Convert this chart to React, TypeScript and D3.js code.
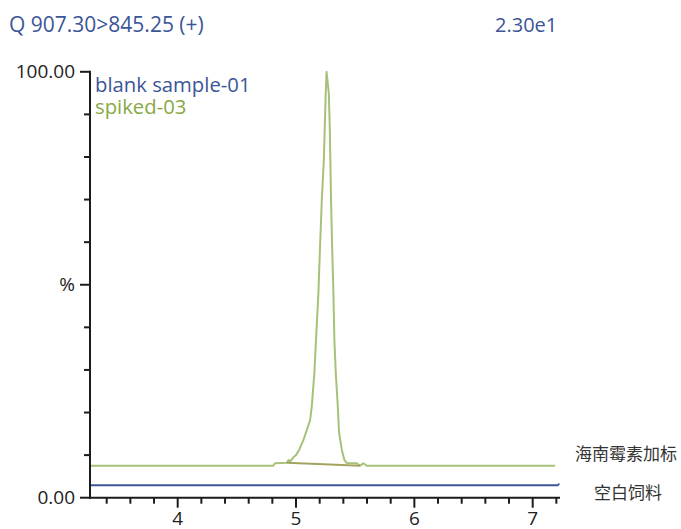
import React from "react";
import * as d3 from "d3";

const title = "Q 907.30>845.25 (+)";
const intensityLabel = "2.30e1";
const seriesNames = ["blank sample-01", "spiked-03"];
const sideLabels = ["海南霉素加标", "空白饲料"];

const xMajorTicks = [4, 5, 6, 7];
const xMinorTicks = [3.4, 3.6, 3.8, 4.2, 4.4, 4.6, 4.8, 5.2, 5.4, 5.6, 5.8, 6.2, 6.4, 6.6, 6.8, 7.2];
const yMajorTicks = [0, 50, 100];
const yMajorLabels = ["0.00", "%", "100.00"];
const yMinorTicks = [10, 20, 30, 40, 60, 70, 80, 90];

const blankTimes = [3.259, 7.21, 7.225];
const blankValues = [2.9, 2.9, 3.3];

const spikedTimes = [
  3.259, 4.806, 4.823, 4.922, 4.937, 4.95, 4.964, 4.979, 5.0, 5.026, 5.062, 5.091, 5.119,
  5.133, 5.155, 5.169, 5.189, 5.203, 5.218, 5.235, 5.243, 5.251, 5.258, 5.277, 5.285, 5.29,
  5.296, 5.305, 5.316, 5.324, 5.336, 5.353, 5.364, 5.387, 5.409, 5.429, 5.513, 5.541, 5.569,
  5.598, 7.19,
];
const spikedValues = [
  7.5, 7.5, 8.1, 8.2, 8.85, 8.5, 9.0, 9.55, 10.0, 11.2, 13.5, 15.9, 18.2,
  21.4, 29.3, 37.1, 48.0, 59.0, 69.9, 79.3, 87.1, 95.0, 100, 95.0, 87.1, 79.3,
  69.9, 59.0, 48.0, 37.1, 29.3, 21.4, 15.2, 11.2, 8.85, 8.15, 8.1, 7.5, 8.1,
  7.5, 7.5,
];
const integrationTimes = [4.922, 5.541];
const integrationValues = [8.2, 7.5];

const BLUE = "#3b5597";
const GREEN_LINE = "#a6c27a";
const GREEN_TEXT = "#88a845";
const BASE_COLOR = "#a2a460";
const AXIS = "#1c1c1c";
const FONT = "'Open Sans', 'Noto Sans', sans-serif";

export default function App() {
  const x = d3.scaleLinear().domain([3.2589, 7.2308]).range([90, 560]);
  const y = d3.scaleLinear().domain([0, 100]).range([497.7, 71.8]);
  const line = d3
    .line<[number, number]>()
    .x((d) => x(d[0]))
    .y((d) => y(d[1]));

  const blank = blankTimes.map((t, i) => [t, blankValues[i]] as [number, number]);
  const spiked = spikedTimes.map((t, i) => [t, spikedValues[i]] as [number, number]);
  const integ = integrationTimes.map((t, i) => [t, integrationValues[i]] as [number, number]);
  const x0 = x.range()[0];
  const y0 = y(0);

  return (
    <svg
      width={681}
      height={529}
      style={{ position: "absolute", left: 0, top: 0, display: "block", background: "#fff" }}
      fontFamily={FONT}
    >
      <text x={9} y={32} fontSize={21} fill={BLUE}>{title}</text>
      <text x={495} y={32} fontSize={20} fill={BLUE}>{intensityLabel}</text>

      {/* lines */}
      <path d={line(spiked) || ""} fill="none" stroke={GREEN_LINE} strokeWidth={2} strokeLinejoin="round" />
      <path d={line(integ) || ""} fill="none" stroke={BASE_COLOR} strokeWidth={2} />
      <path d={line(blank) || ""} fill="none" stroke={BLUE} strokeWidth={2} />

      {/* y axis */}
      <line x1={x0} x2={x0} y1={y(100) - 1} y2={y0 + 1} stroke={AXIS} strokeWidth={2} />
      {yMajorTicks.map((t) => (
        <line key={"ym" + t} x1={80} x2={x0} y1={y(t)} y2={y(t)} stroke={AXIS} strokeWidth={2} />
      ))}
      {yMinorTicks.map((t) => (
        <line key={"yn" + t} x1={84} x2={x0} y1={y(t)} y2={y(t)} stroke={AXIS} strokeWidth={2} />
      ))}
      {yMajorTicks.map((t, i) => (
        <text key={"yl" + t} x={75} y={y(t)} dy="0.35em" textAnchor="end" fontSize={19} fill="#222">
          {yMajorLabels[i]}
        </text>
      ))}

      {/* x axis */}
      <line x1={x0 - 1} x2={560} y1={y0} y2={y0} stroke={AXIS} strokeWidth={2} />
      {xMajorTicks.map((t) => (
        <line key={"xm" + t} x1={x(t)} x2={x(t)} y1={y0} y2={y0 + 10} stroke={AXIS} strokeWidth={2} />
      ))}
      {xMinorTicks.map((t) => (
        <line key={"xn" + t} x1={x(t)} x2={x(t)} y1={y0} y2={y0 + 6} stroke={AXIS} strokeWidth={2} />
      ))}
      {xMajorTicks.map((t) => (
        <text key={"xl" + t} x={x(t)} y={525} textAnchor="middle" fontSize={19} fill="#222">
          {t}
        </text>
      ))}

      {/* legend */}
      <text x={95} y={92} fontSize={20.3} fill={BLUE}>{seriesNames[0]}</text>
      <text x={95} y={114} fontSize={20.3} fill={GREEN_TEXT}>{seriesNames[1]}</text>

      {/* side labels */}
      <text x={626} y={454} dy="0.35em" textAnchor="middle" fontSize={17} fill="#333"
        fontFamily="'Noto Sans CJK SC', sans-serif">{sideLabels[0]}</text>
      <text x={628} y={493} dy="0.35em" textAnchor="middle" fontSize={17} fill="#333"
        fontFamily="'Noto Sans CJK SC', sans-serif">{sideLabels[1]}</text>
    </svg>
  );
}
